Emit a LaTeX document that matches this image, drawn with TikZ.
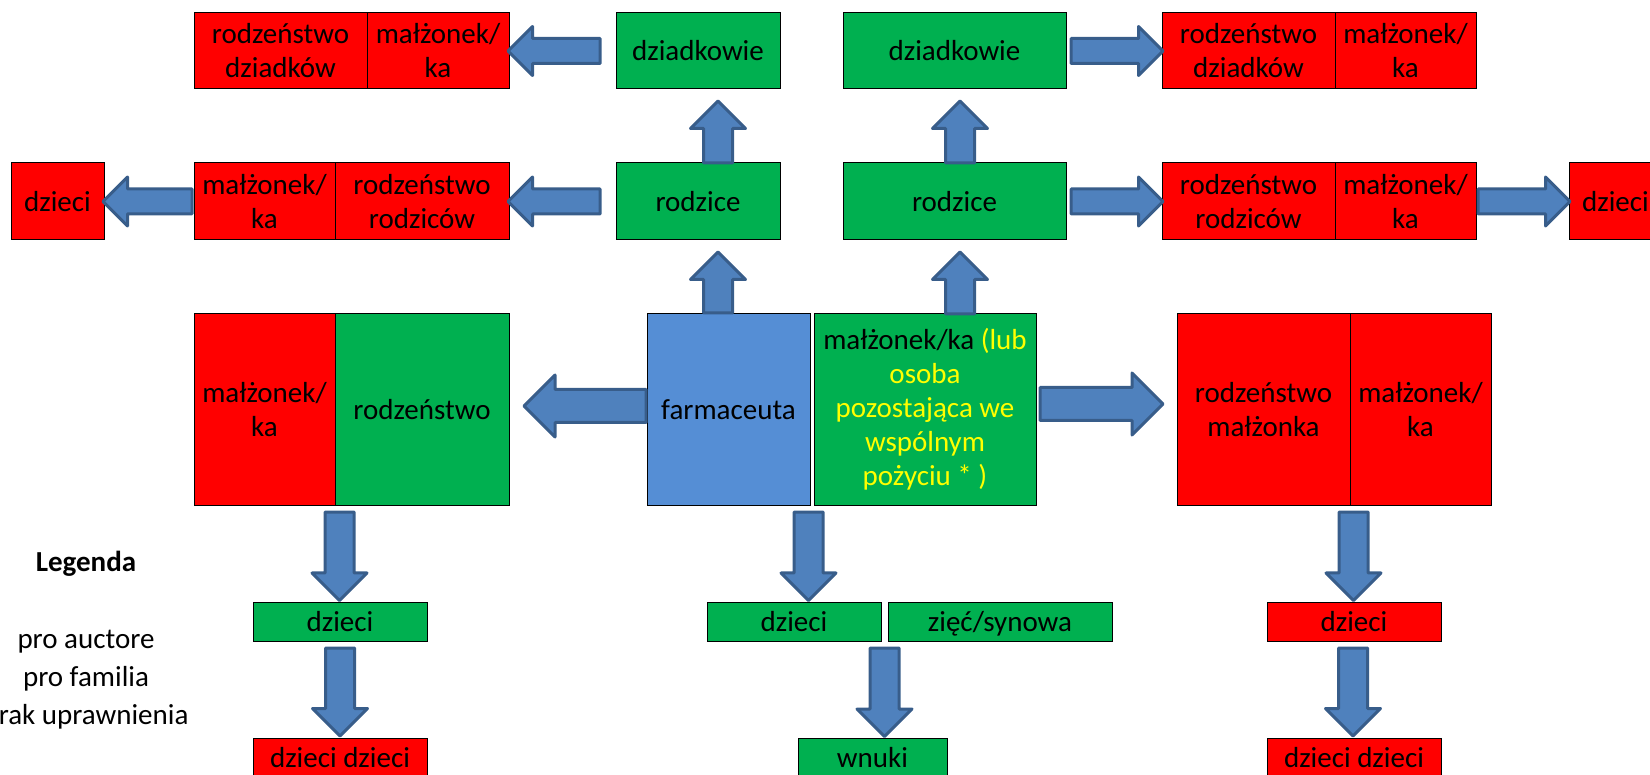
\documentclass[tikz,border=0pt]{standalone}
\usepackage{fontspec}
\setmainfont{Carlito}
\usetikzlibrary{shapes.arrows,calc}

\definecolor{czerw}{HTML}{FF0000}
\definecolor{ziel}{HTML}{00B050}
\definecolor{farm}{HTML}{558ED5}
\definecolor{niebieski}{HTML}{4F81BD}
\definecolor{ramka}{HTML}{385D8A}
\definecolor{zolty}{HTML}{FFFF00}

\tikzset{
  pole/.style={draw=black, line width=1pt, inner sep=0pt, align=center,
    font=\fontsize{29}{34}\selectfont},
  czerwony/.style={pole, fill=czerw},
  zielony/.style={pole, fill=ziel},
  strzalka/.style={single arrow, draw=ramka, fill=niebieski, line width=3pt,
    line join=round, inner xsep=0pt, anchor=tail},
  strzMala/.style={strzalka, inner ysep=11, single arrow head extend=12},
  strzDuza/.style={strzalka, inner ysep=15, single arrow head extend=14.5},
  strzPion/.style={strzalka, inner ysep=13, single arrow head extend=13},
}

\newcommand{\strzalka}[3]{\path let \p1=#2, \p2=#3,
  \n1={abs(\x2-\x1)+abs(\y2-\y1)} in node[#1, minimum height=\n1] at (\p1) {};}

\begin{document}
\begin{tikzpicture}[x=1pt, y=-1pt]
  \useasboundingbox (0,0) rectangle (1650,775);
  \clip (0,0) rectangle (1650,775);

  \node[czerwony, minimum width=173, minimum height=76] (rdzDzL) at (280.5,51) {rodzeństwo\\dziadków};
  \node[czerwony, minimum width=142, minimum height=76] (mzDzL) at (438,51) {małżonek/\\ka};
  \node[zielony, minimum width=164, minimum height=76] (dziadL) at (698,51) {dziadkowie};
  \node[zielony, minimum width=223, minimum height=76] (dziadR) at (954.5,51) {dziadkowie};
  \node[czerwony, minimum width=173, minimum height=76] (rdzDzR) at (1248.5,51) {rodzeństwo\\dziadków};
  \node[czerwony, minimum width=141, minimum height=76] (mzDzR) at (1405.5,51) {małżonek/\\ka};

  \node[czerwony, minimum width=93, minimum height=77] (dzieciL) at (57.5,201.5) {dzieci};
  \node[czerwony, minimum width=141, minimum height=77] (mzRoL) at (264.5,201.5) {małżonek/\\ka};
  \node[czerwony, minimum width=174, minimum height=77] (rdzRoL) at (422,201.5) {rodzeństwo\\rodziców};
  \node[zielony, minimum width=164, minimum height=77] (rodziceL) at (698,201.5) {rodzice};
  \node[zielony, minimum width=223, minimum height=77] (rodziceR) at (954.5,201.5) {rodzice};
  \node[czerwony, minimum width=173, minimum height=77] (rdzRoR) at (1248.5,201.5) {rodzeństwo\\rodziców};
  \node[czerwony, minimum width=141, minimum height=77] (mzRoR) at (1405.5,201.5) {małżonek/\\ka};
  \node[czerwony, minimum width=93, minimum height=77] (dzieciR) at (1615.5,201.5) {dzieci};

  \node[czerwony, minimum width=141, minimum height=191] (mzRdz) at (264.5,409.5) {małżonek/\\ka};
  \node[zielony, minimum width=174, minimum height=191] (rodzenstwo) at (422,409.5) {rodzeństwo};
  \node[pole, fill=farm, minimum width=163, minimum height=191] (farmaceuta) at (728.5,409.5) {farmaceuta};
  \node[zielony, minimum width=222, minimum height=191] (malzonek) at (925,409.5)
    {małżonek/ka \textcolor{zolty}{(lub}\\\textcolor{zolty}{osoba}\\\textcolor{zolty}{pozostająca we}\\\textcolor{zolty}{wspólnym}\\\textcolor{zolty}{pożyciu * )}};
  \node[czerwony, minimum width=173, minimum height=191] (rdzMalz) at (1263.5,409.5) {rodzeństwo\\małżonka};
  \node[czerwony, minimum width=141, minimum height=191] (mzRdzMalz) at (1420.5,409.5) {małżonek/\\ka};

  \node[zielony, minimum width=174, minimum height=39] (dzieciA) at (340,621.5) {dzieci};
  \node[zielony, minimum width=174, minimum height=39] (dzieciB) at (794,621.5) {dzieci};
  \node[zielony, minimum width=224, minimum height=39, text depth=0pt] (ziec) at (1000,621.5) {zięć/synowa};
  \node[czerwony, minimum width=174, minimum height=39] (dzieciC) at (1354,621.5) {dzieci};

  \node[czerwony, minimum width=174, minimum height=39] (dzieciDzA) at (340,757.5) {dzieci dzieci};
  \node[zielony, minimum width=149, minimum height=39] (wnuki) at (872.5,757.5) {wnuki};
  \node[czerwony, minimum width=174, minimum height=39] (dzieciDzC) at (1354,757.5) {dzieci dzieci};

  \node[font=\fontsize{29}{34}\selectfont\bfseries] (legenda) at (86,564) {Legenda};
  \node[font=\fontsize{29}{34}\selectfont] (auctore) at (86,642) {pro auctore};
  \node[font=\fontsize{29}{34}\selectfont] (familia) at (86,679) {pro familia};
  \node[font=\fontsize{29}{34}\selectfont] (brak) at (86,717) {brak uprawnienia};

  \strzalka{strzMala, rotate=180}{($(dziadL.west)+(-14,0)$)}{(mzDzL.east)}
  \strzalka{strzMala}{($(dziadR.east)+(3,0)$)}{(rdzDzR.west)}
  \strzalka{strzMala, rotate=180}{($(rodziceL.west)+(-14,0)$)}{(rdzRoL.east)}
  \strzalka{strzMala, rotate=180}{(mzRoL.west)}{(dzieciL.east)}
  \strzalka{strzMala}{($(rodziceR.east)+(3,0)$)}{(rdzRoR.west)}
  \strzalka{strzMala}{(mzRoR.east)}{(dzieciR.west)}

  \strzalka{strzPion, rotate=90}{($(rodziceL.north)+(20,2)$)}{($(dziadL.south)+(20,13)$)}
  \strzalka{strzPion, rotate=90}{($(rodziceR.north)+(5.5,2)$)}{($(dziadR.south)+(5.5,13)$)}
  \strzalka{strzPion, rotate=90}{($(farmaceuta.north)+(-10.5,1)$)}{($(rodziceL.south)+(20,13)$)}
  \strzalka{strzPion, rotate=90}{($(malzonek.north)+(35,2)$)}{($(rodziceR.south)+(5.5,13)$)}

  \strzalka{strzDuza, rotate=180}{($(farmaceuta.west)+(1,-3.5)$)}{($(rodzenstwo.east)+(16,-3.5)$)}
  \strzalka{strzDuza}{($(malzonek.east)+(2,-5.5)$)}{($(rdzMalz.west)+(-15,-5.5)$)}

  \strzalka{strzPion, rotate=-90}{($(rodzenstwo.south west)+(5,5)$)}{($(dzieciA.north)+(0,-3)$)}
  \strzalka{strzPion, rotate=-90}{($(dzieciA.south)+(0,5)$)}{($(dzieciDzA.north)+(0,-3)$)}
  \strzalka{strzPion, rotate=-90}{($(farmaceuta.south east)+(-2,5)$)}{($(dzieciB.north)+(14,-3)$)}
  \strzalka{strzPion, rotate=-90}{($(dzieciB.south east)+(3,5)$)}{($(wnuki.north)+(11.5,-3)$)}
  \strzalka{strzPion, rotate=-90}{($(rdzMalz.south east)+(3,5)$)}{($(dzieciC.north)+(-1,-3)$)}
  \strzalka{strzPion, rotate=-90}{($(dzieciC.south)+(-1,5)$)}{($(dzieciDzC.north)+(-1,-3)$)}
\end{tikzpicture}
\end{document}
